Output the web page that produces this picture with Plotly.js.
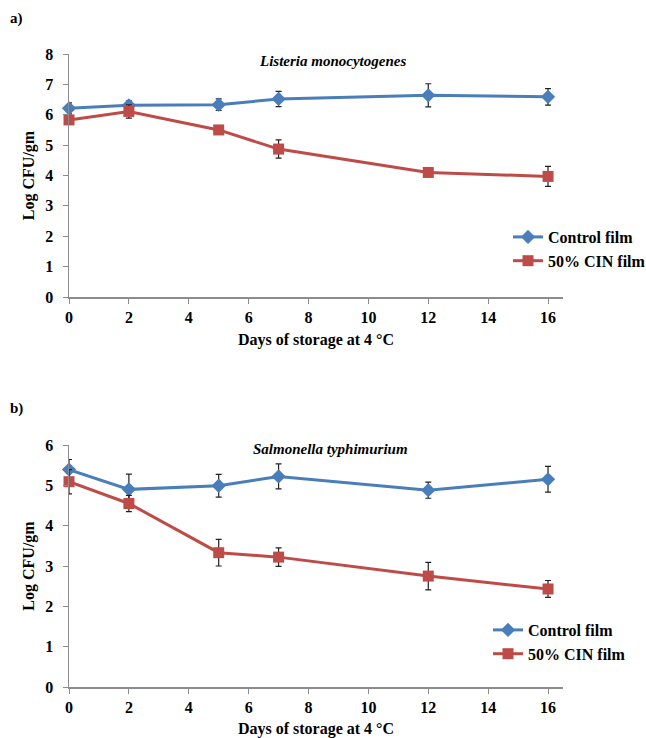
<!DOCTYPE html>
<html>
<head>
<meta charset="utf-8">
<script src="https://cdn.plot.ly/plotly-3.0.1.min.js"></script>
<style>html,body{margin:0;padding:0;background:#fff;}#chart{width:646px;height:738px;}</style>
</head>
<body>
<div id="chart"></div>
<script>
// Days of storage
const days = [0, 2, 5, 7, 12, 16];
const xTicks = [0, 2, 4, 6, 8, 10, 12, 14, 16];

// a) Listeria monocytogenes
const listeriaControl = [6.21, 6.31, 6.33, 6.52, 6.64, 6.59];
const listeriaControlErr = [0.18, 0.15, 0.19, 0.25, 0.38, 0.27];
const listeriaCIN = [5.83, 6.11, 5.50, 4.87, 4.10, 3.97];
const listeriaCINErr = [0.08, 0.22, 0.08, 0.30, 0.10, 0.33];

// b) Salmonella typhimurium
const salmControl = [5.39, 4.90, 4.99, 5.22, 4.88, 5.15];
const salmControlErr = [0.25, 0.38, 0.28, 0.31, 0.20, 0.32];
const salmCIN = [5.09, 4.55, 3.33, 3.22, 2.75, 2.43];
const salmCINErr = [0.30, 0.20, 0.33, 0.23, 0.34, 0.21];

const seriesNames = ["Control film", "50% CIN film"];
const panelLabels = ["a)", "b)"];
const panelTitles = ["Listeria monocytogenes", "Salmonella typhimurium"];
const xTitle = "Days of storage at 4 °C";
const yTitle = "Log CFU/gm";

const FONT = "Liberation Serif, Times New Roman, serif";
const BLUE = "#4A7EBB", RED = "#BE4B48";

function mk(y, err, name, color, symbol, size, xa, ya, legend) {
  return {
    x: days, y: y, name: name, type: "scatter", mode: "lines+markers",
    xaxis: xa, yaxis: ya, legend: legend, showlegend: true,
    line: {color: color, width: 3},
    marker: {color: color, symbol: symbol, size: size},
    error_y: {type: "data", array: err, visible: true, color: "#222", thickness: 1.2, width: 3},
    cliponaxis: false
  };
}

const traces = [
  mk(listeriaControl, listeriaControlErr, seriesNames[0], BLUE, "diamond", 11, "x", "y", "legend"),
  mk(listeriaCIN, listeriaCINErr, seriesNames[1], RED, "square", 11, "x", "y", "legend"),
  mk(salmControl, salmControlErr, seriesNames[0], BLUE, "diamond", 11, "x2", "y2", "legend2"),
  mk(salmCIN, salmCINErr, seriesNames[1], RED, "square", 11, "x2", "y2", "legend2")
];

const tickFont = {family: FONT, size: 16, color: "#000", weight: "bold"};
const titleFont = {family: FONT, size: 16, color: "#000"};
function xax(anchor) {
  return {
    domain: [69/646, 563/646], anchor: anchor, range: [0, 16.5],
    tickvals: xTicks, ticktext: xTicks.map(String),
    showgrid: false, zeroline: false, showline: true, linecolor: "#8c8c8c", linewidth: 1.5,
    ticks: "outside", ticklen: 5, tickcolor: "#8c8c8c", tickwidth: 1,
    tickfont: tickFont,
    title: {text: "<b>" + xTitle + "</b>", font: titleFont, standoff: 9}
  };
}
function yax(anchor, domain, range) {
  return {
    domain: domain, anchor: anchor, range: range, dtick: 1,
    showgrid: false, zeroline: false, showline: true, linecolor: "#8c8c8c", linewidth: 1.5,
    ticks: "outside", ticklen: 5, tickcolor: "#8c8c8c", tickwidth: 1,
    ticklabelstandoff: 6,
    tickfont: tickFont,
    title: {text: "<b>" + yTitle + "</b>", font: titleFont, standoff: 6}
  };
}

const legendFont = {family: FONT, size: 16, color: "#000", weight: "bold"};
const layout = {
  width: 646, height: 738,
  margin: {l: 0, r: 0, t: 0, b: 0, autoexpand: false},
  paper_bgcolor: "#fff", plot_bgcolor: "#fff",
  font: {family: FONT, color: "#000"},
  xaxis: xax("y"),
  yaxis: yax("x", [1 - 297/738, 1 - 54/738], [0, 8]),
  xaxis2: xax("y2"),
  yaxis2: yax("x2", [1 - 687/738, 1 - 445/738], [0, 6]),
  legend: {x: 508/646, y: 1 - 220/738, xanchor: "left", yanchor: "top",
    font: legendFont, bgcolor: "rgba(0,0,0,0)", itemwidth: 30},
  legend2: {x: 488/646, y: 1 - 613/738, xanchor: "left", yanchor: "top",
    font: legendFont, bgcolor: "rgba(0,0,0,0)", itemwidth: 30},
  annotations: [
    {text: "<b>" + panelLabels[0] + "</b>", xref: "paper", yref: "paper", x: 8/646, y: 1 - 18/738,
      xanchor: "left", yanchor: "middle", showarrow: false, font: {family: FONT, size: 15}},
    {text: "<b>" + panelLabels[1] + "</b>", xref: "paper", yref: "paper", x: 8/646, y: 1 - 408/738,
      xanchor: "left", yanchor: "middle", showarrow: false, font: {family: FONT, size: 15}},
    {text: "<b><i>" + panelTitles[0] + "</i></b>", xref: "paper", yref: "paper", x: 332/646, y: 1 - 61/738,
      xanchor: "center", yanchor: "middle", showarrow: false, font: {family: FONT, size: 15}},
    {text: "<b><i>" + panelTitles[1] + "</i></b>", xref: "paper", yref: "paper", x: 330/646, y: 1 - 449/738,
      xanchor: "center", yanchor: "middle", showarrow: false, font: {family: FONT, size: 15}}
  ],
  showlegend: true
};

Plotly.newPlot("chart", traces, layout, {displayModeBar: false, staticPlot: true});
</script>
</body>
</html>
